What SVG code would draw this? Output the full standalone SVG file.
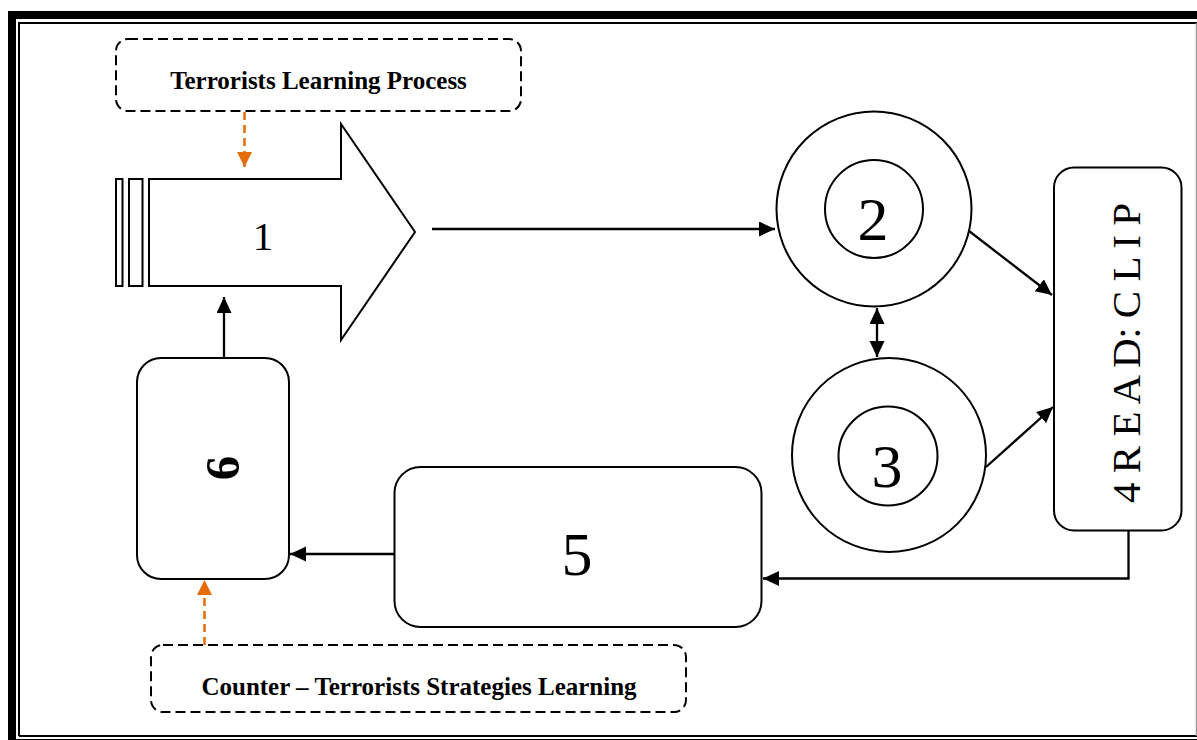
<svg xmlns="http://www.w3.org/2000/svg" width="1197" height="740" viewBox="0 0 1197 740">
  <style>
    .frame-thick { fill: none; stroke: #000; stroke-width: 8; }
    .frame-thin { fill: none; stroke: #000; stroke-width: 2; }
    .shape { fill: #fff; stroke: #000; stroke-width: 2; }
    .note { fill: none; stroke: #000; stroke-width: 2; stroke-dasharray: 10 5; }
    .num { font-family: "Liberation Serif", "Times New Roman", serif; fill: #000; text-anchor: middle; }
    .label { font-family: "Liberation Serif", "Times New Roman", serif; font-weight: bold; font-size: 25px; fill: #000; text-anchor: middle; }
    .link { fill: none; stroke: #000; stroke-width: 2.3; }
    .link-orange { fill: none; stroke: #E46C0A; stroke-width: 2.5; stroke-dasharray: 8 5; }
  </style>
  <defs>
    <marker id="ah" markerUnits="userSpaceOnUse" markerWidth="18" markerHeight="18" refX="16" refY="7.5" orient="auto-start-reverse">
      <path d="M0,0 L16,7.5 L0,15 Z" fill="#000"/>
    </marker>
    <marker id="ah-orange" markerUnits="userSpaceOnUse" markerWidth="16" markerHeight="16" refX="15" refY="7.5" orient="auto">
      <path d="M0,0 L15,7.5 L0,15 Z" fill="#E46C0A"/>
    </marker>
  </defs>

  <rect width="1197" height="740" fill="#fff"/>

  <!-- page frame: thick outer rule, thin inner rule -->
  <g id="frame">
    <path class="frame-thick" d="M12,750 V15 H1210"/>
    <path class="frame-thick" d="M12,743 H1210"/>
    <path class="frame-thin" d="M19,736 V23 H1197"/>
    <path class="frame-thin" d="M19,736 H1197"/>
    <line x1="1196.5" y1="23" x2="1196.5" y2="736" stroke="#999" stroke-width="1.5"/>
  </g>

  <!-- notes -->
  <g id="note-terrorists">
    <rect class="note" x="116" y="39" width="405" height="72" rx="12"/>
    <text class="label" x="318.5" y="89">Terrorists Learning Process</text>
  </g>
  <g id="note-counter">
    <rect class="note" x="151" y="645" width="535" height="67" rx="12"/>
    <text class="label" x="419" y="695">Counter – Terrorists Strategies Learning</text>
  </g>

  <!-- node 1: block arrow -->
  <g id="node-1">
    <rect class="shape" x="116" y="179" width="6.5" height="107"/>
    <rect class="shape" x="129" y="179" width="13.5" height="107"/>
    <path class="shape" d="M149,179 H341 V124 L415,232 L341,340 V286 H149 Z"/>
    <text class="num" x="263" y="250" font-size="41">1</text>
  </g>

  <!-- node 2 -->
  <g id="node-2">
    <circle class="shape" cx="874" cy="209" r="97.5"/>
    <circle class="shape" cx="874" cy="209" r="49"/>
    <text class="num" x="873" y="240" font-size="62">2</text>
  </g>

  <!-- node 3 -->
  <g id="node-3">
    <circle class="shape" cx="889" cy="455" r="97"/>
    <circle class="shape" cx="888" cy="456" r="49.5"/>
    <text class="num" x="887" y="487" font-size="62">3</text>
  </g>

  <!-- node 4 -->
  <g id="node-4">
    <rect class="shape" x="1054" y="167.5" width="127.5" height="363" rx="20"/>
    <text class="num" font-size="41" textLength="300" lengthAdjust="spacing" transform="translate(1140,353) rotate(-90)" x="0" y="0">4 R E A D: C L I P</text>
  </g>

  <!-- node 5 -->
  <g id="node-5">
    <rect class="shape" x="394.5" y="467" width="367" height="160" rx="26"/>
    <text class="num" x="577" y="575" font-size="62">5</text>
  </g>

  <!-- node 6 -->
  <g id="node-6">
    <rect class="shape" x="137" y="358" width="152" height="221" rx="24"/>
    <text class="num" font-size="49" font-weight="bold" transform="translate(239,468) rotate(-90)" x="0" y="0">6</text>
  </g>

  <!-- connectors -->
  <g id="connectors">
    <line class="link" x1="432" y1="229" x2="775" y2="229" marker-end="url(#ah)"/>
    <line class="link" x1="969" y1="231" x2="1052" y2="295" marker-end="url(#ah)"/>
    <line class="link" x1="986" y1="467" x2="1053" y2="407" marker-end="url(#ah)"/>
    <line class="link" x1="877" y1="308" x2="877" y2="357" stroke-width="2.8" marker-start="url(#ah)" marker-end="url(#ah)"/>
    <path class="link" d="M1128.5,531 V578.5 H763" marker-end="url(#ah)"/>
    <line class="link" x1="394" y1="554" x2="290" y2="554" marker-end="url(#ah)"/>
    <line class="link" x1="224" y1="357" x2="224" y2="297" stroke-width="3" marker-end="url(#ah)"/>
    <line class="link-orange" x1="244.5" y1="112" x2="244.5" y2="167" marker-end="url(#ah-orange)"/>
    <line class="link-orange" x1="204.5" y1="645" x2="204.5" y2="580" marker-end="url(#ah-orange)"/>
  </g>
</svg>
